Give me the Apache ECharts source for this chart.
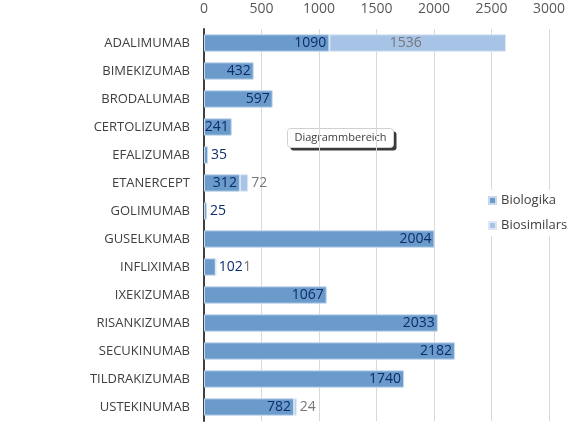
<!DOCTYPE html>
<html><head><meta charset="utf-8">
<script src="https://cdn.jsdelivr.net/npm/echarts@6/dist/echarts.min.js"></script>
<style>html,body{margin:0;padding:0;background:#fff}#c{width:576px;height:428px}</style>
</head><body><div id="c"></div>
<script>
var categories = ['ADALIMUMAB','BIMEKIZUMAB','BRODALUMAB','CERTOLIZUMAB','EFALIZUMAB','ETANERCEPT','GOLIMUMAB','GUSELKUMAB','INFLIXIMAB','IXEKIZUMAB','RISANKIZUMAB','SECUKINUMAB','TILDRAKIZUMAB','USTEKINUMAB'];
var biologika = [1090,432,597,241,35,312,25,2004,102,1067,2033,2182,1740,782];
var biosimilars = [1536,null,null,null,null,72,null,null,1,null,null,null,null,24];
var xTicks = [0,500,1000,1500,2000,2500,3000];
var seriesNames = ['Biologika','Biosimilars'];

var FONT = '"Open Sans", "Noto Sans", sans-serif';
var bioData = biologika.map(function(v){
  var item = {value: v};
  if (v < 150) item.label = {position: 'right', distance: 3};
  return item;
});
var simData = biosimilars.map(function(v, i){
  if (v == null) return null;
  var item = {value: v};
  if (v > 500) item.label = {position: 'inside', offset: [-12, 0]};
  else if (biologika[i] < 150) item.label = {position: 'right', distance: 3, offset: [24, 0]};
  return item;
});

var chart = echarts.init(document.getElementById('c'), null, {renderer: 'canvas'});
chart.setOption({
  animation: false,
  textStyle: {fontFamily: FONT},
  grid: {left: 204, right: 27, top: 29, bottom: 7, containLabel: false},
  xAxis: {
    type: 'value', position: 'top', min: xTicks[0], max: xTicks[xTicks.length - 1], interval: xTicks[1] - xTicks[0],
    axisLine: {show: false}, axisTick: {show: false},
    axisLabel: {color: '#595959', fontSize: 14, margin: 13, fontFamily: FONT, formatter: function(v){ return String(v); }},
    splitLine: {lineStyle: {color: '#d9d9d9', width: 1}}
  },
  yAxis: {
    type: 'category', inverse: true, data: categories,
    axisLine: {lineStyle: {color: '#404040', width: 2}},
    axisTick: {show: false},
    axisLabel: {color: '#404040', fontSize: 13, margin: 14, fontFamily: FONT}
  },
  legend: {
    orient: 'vertical', left: 484, top: 190,
    itemWidth: 7, itemHeight: 7, itemGap: 12, icon: 'rect',
    backgroundColor: '#ffffff', padding: [4, 6, 4, 4],
    textStyle: {color: '#404040', fontSize: 13, fontFamily: FONT},
    data: seriesNames
  },
  series: [
    {
      name: seriesNames[0], type: 'bar', stack: 't', barWidth: '62%',
      data: bioData,
      itemStyle: {color: '#6a9bca', borderColor: '#c6d9ee', borderWidth: 1},
      label: {show: true, position: 'insideRight', distance: 3, color: '#0d2c6c', fontSize: 14, fontFamily: FONT}
    },
    {
      name: seriesNames[1], type: 'bar', stack: 't', barWidth: '62%',
      data: simData,
      itemStyle: {color: '#a7c4e7', borderColor: '#dbe7f5', borderWidth: 1},
      label: {show: true, position: 'right', distance: 3, color: '#767676', fontSize: 14, fontFamily: FONT}
    }
  ],
  graphic: [{
    type: 'group', left: 287, top: 128,
    children: [
      {type: 'rect', shape: {x: 3, y: 3, width: 106, height: 19, r: 3}, style: {fill: '#3a3a3a'}},
      {type: 'rect', shape: {x: 0, y: 0, width: 106, height: 19, r: 3}, style: {fill: '#ffffff', stroke: '#d0d0d0', lineWidth: 1}},
      {type: 'text', x: 53, y: 9.5, style: {text: 'Diagrammbereich', fill: '#404040', fontSize: 11, fontFamily: FONT, align: 'center', verticalAlign: 'middle'}}
    ]
  }]
});
</script></body></html>
